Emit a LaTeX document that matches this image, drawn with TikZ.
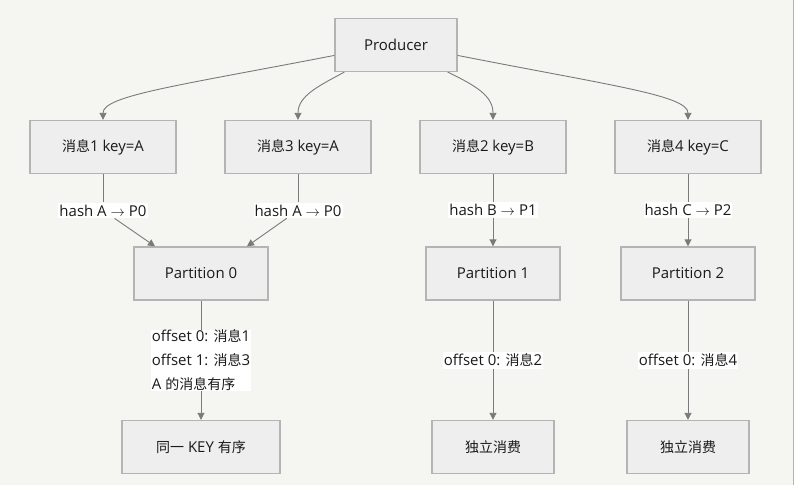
\documentclass[tikz,border=0pt]{standalone}
\usepackage{fontspec}
\setmainfont{Open Sans}[Scale=1.07]
\newfontfamily\cjk{Noto Sans CJK SC}
\usepackage{tikz}
\usetikzlibrary{arrows.meta}
\definecolor{bgc}{HTML}{F5F5F2}
\definecolor{boxfill}{HTML}{EEEEEE}
\definecolor{boxline}{HTML}{B4B4B4}
\definecolor{edgec}{HTML}{7A7A7A}
\definecolor{txt}{HTML}{1A1A1A}
\tikzset{>={Triangle[length=7pt,width=7pt]}}
\tikzstyle{box} = [rectangle, draw=boxline, fill=boxfill, line width=1.2pt, minimum height=53pt, inner sep=0pt, text=txt, font=\fontsize{14}{17}\selectfont]
\tikzstyle{edge} = [->, draw=edgec, line width=0.9pt]
\tikzstyle{lbl} = [fill=white, inner xsep=1pt, inner ysep=2pt, text=txt, font=\fontsize{14}{17}\selectfont]

\begin{document}
\begin{tikzpicture}[x=1pt, y=1pt]
\fill [bgc] (0,0) rectangle (798,-485);
\fill [white] (793,0) rectangle (798,-485);
\draw [boxline, line width=0.8pt] (793,0) -- (793,-485);

\node [box, minimum width=122pt] (prod) at (396,-44.5) {Producer};
\node [box, minimum width=146pt] (m1) at (103,-146.5) {{\cjk 消息}1 key=A};
\node [box, minimum width=146pt] (m3) at (298,-146.5) {{\cjk 消息}3 key=A};
\node [box, minimum width=146pt] (m2) at (493,-146.5) {{\cjk 消息}2 key=B};
\node [box, minimum width=146pt] (m4) at (688,-146.5) {{\cjk 消息}4 key=C};
\node [box, minimum width=134pt] (p0) at (201,-273) {Partition 0};
\node [box, minimum width=134pt] (p1) at (493,-273) {Partition 1};
\node [box, minimum width=134pt] (p2) at (688,-273) {Partition 2};
\node [box, minimum width=158pt] (k0) at (201,-446.5) {{\cjk 同一} KEY {\cjk 有序}};
\node [box, minimum width=122pt] (c1) at (493,-446.5) {\cjk 独立消费};
\node [box, minimum width=122pt] (c2) at (688,-446.5) {\cjk 独立消费};
\node [lbl] (h1) at (103,-210) {hash A $\rightarrow$ P0};
\node [lbl] (h3) at (298,-210) {hash A $\rightarrow$ P0};

\draw [edge] ([yshift=-10.5pt]prod.west) .. controls (180,-85) and (103,-95) .. (m1.north);
\draw [edge] ([xshift=10pt]prod.south west) .. controls (320,-85) and (298,-95) .. (m3.north);
\draw [edge] ([xshift=-10pt]prod.south east) .. controls (475,-85) and (493,-95) .. (m2.north);
\draw [edge] ([yshift=-10.5pt]prod.east) .. controls (610,-85) and (688,-95) .. (m4.north);

\draw [edge, -] (m1) -- (h1);
\draw [edge] (h1) -- ([xshift=-46pt]p0.north);
\draw [edge, -] (m3) -- (h3);
\draw [edge] (h3) -- ([xshift=46pt]p0.north);
\draw [edge] (m2) to node[lbl] {hash B $\rightarrow$ P1} (p1);
\draw [edge] (m4) to node[lbl] {hash C $\rightarrow$ P2} (p2);

\draw [edge] (p0) to node[lbl, align=left, inner ysep=0pt, font=\fontsize{14}{24}\selectfont] {offset 0: {\cjk 消息}1\\offset 1: {\cjk 消息}3\\A {\cjk 的消息有序}} (k0);
\draw [edge] (p1) to node[lbl] {offset 0: {\cjk 消息}2} (c1);
\draw [edge] (p2) to node[lbl] {offset 0: {\cjk 消息}4} (c2);
\end{tikzpicture}
\end{document}
